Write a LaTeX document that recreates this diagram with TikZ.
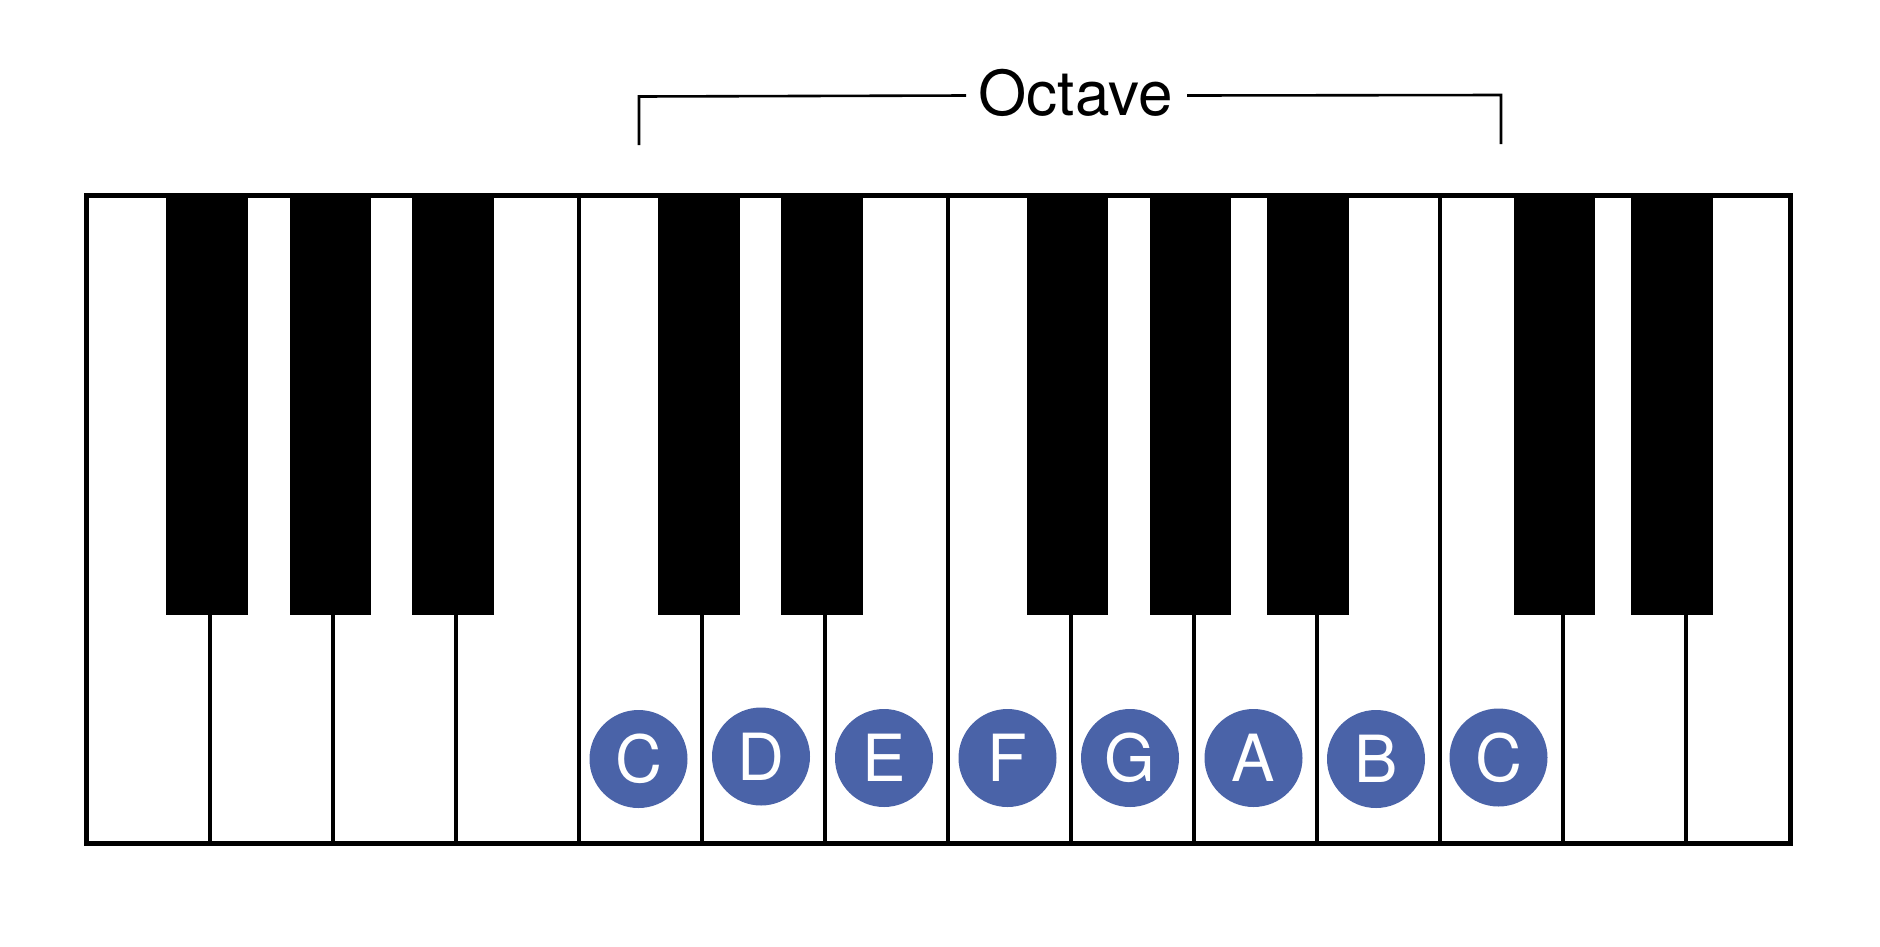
\documentclass[tikz,border=0pt]{standalone}
\usepackage{fontspec}
\setmainfont{TeX Gyre Heros}
\definecolor{noteblue}{RGB}{74,99,168}
\begin{document}
\begin{tikzpicture}[x=1pt,y=-1pt,
  frame/.style={line width=5pt,draw=black},
  divider/.style={line width=3.5pt,draw=black},
  blackkey/.style={fill=black},
  bracketline/.style={line width=2.6pt,draw=black},
  note/.style={circle,fill=noteblue,minimum size=98pt,inner sep=0pt,text=white,
    font=\fontsize{65}{70}\selectfont},
  octlabel/.style={font=\fontsize{62}{70}\selectfont,text=black,inner sep=0pt}]
\useasboundingbox (0,0) rectangle (1880,946);
\fill[white] (0,0) rectangle (1880,946);
% white keys background
\fill[white] (86.5,195.5) rectangle (1790.5,843.5);
% dividers between white keys
\foreach \x in {210,333,456,579,702,825,948,1071,1194,1317,1440,1563,1686}
  \draw[divider] (\x,196) -- (\x,843);
% black keys
\foreach \a/\b in {166/248,290/371,412/494,658/740,781/863,1027/1108,1150/1231,1267/1349,1514/1595,1631/1713}
  \fill[blackkey] (\a,194) rectangle (\b,615);
% outer frame
\draw[frame] (86.5,195.5) rectangle (1790.5,843.5);
% note circles
\node[note] (c1) at (638.5,759) {C};
\node[note] (d1) at (761,756.5) {D};
\node[note] (e1) at (884,758) {E};
\node[note] (f1) at (1007.5,758) {F};
\node[note] (g1) at (1130,758) {G};
\node[note] (a1) at (1253.5,758) {A};
\node[note] (b1) at (1376,759) {B};
\node[note] (c2) at (1498.5,757.5) {C};
% octave bracket
\node[octlabel] (oct) at (1075.5,93) {Octave};
\coordinate (bl) at (639,145);
\coordinate (blt) at (639,96.5);
\coordinate (bli) at (966,95.5);
\coordinate (bri) at (1187,95.5);
\coordinate (brt) at (1501,95);
\coordinate (br) at (1501,144);
\draw[bracketline] (bl) -- (blt) -- (bli);
\draw[bracketline] (bri) -- (brt) -- (br);
\end{tikzpicture}
\end{document}
